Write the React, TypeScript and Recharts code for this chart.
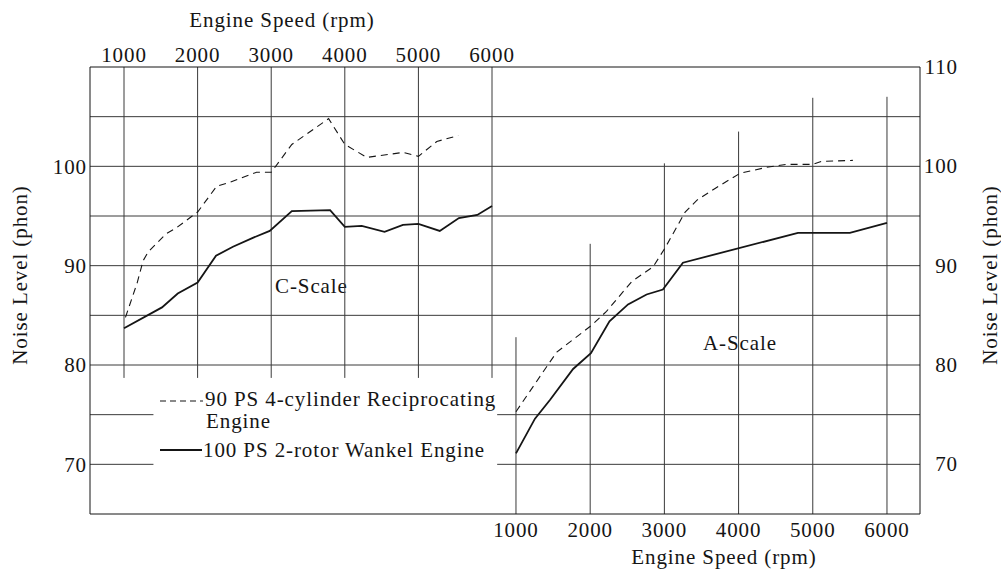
import { LineChart, Line, XAxis, YAxis, ReferenceLine } from "recharts";

const rpmTicks = [1000, 2000, 3000, 4000, 5000, 6000];
const leftPhonTicks = [70, 80, 90, 100];
const rightPhonTicks = [70, 80, 90, 100, 110];

// C-scale curves, read against the top rpm axis
const cRecipRpm = [1020, 1180, 1260, 1330, 1570, 1710, 2000, 2260, 2440, 2800, 3000, 3280, 3780, 4000, 4300, 4790, 5000, 5250, 5540];
const cRecipPhon = [84.8, 88.3, 90.5, 91.4, 93.2, 93.8, 95.4, 98.0, 98.4, 99.4, 99.4, 102.2, 104.8, 102.2, 100.9, 101.4, 101.0, 102.5, 103.1];
const cWankelRpm = [1000, 1516, 1730, 2000, 2250, 2480, 2750, 2980, 3280, 3800, 4000, 4230, 4540, 4790, 5000, 5290, 5550, 5800, 6000];
const cWankelPhon = [83.7, 85.8, 87.2, 88.3, 91.0, 91.9, 92.8, 93.5, 95.5, 95.6, 93.9, 94.0, 93.4, 94.1, 94.2, 93.5, 94.8, 95.1, 96.0];

// A-scale curves, read against the bottom rpm axis and the right phon axis
const aRecipRpm = [1000, 1420, 1550, 2020, 2220, 2560, 2850, 3010, 3280, 3440, 3710, 4020, 4380, 4650, 5000, 5120, 5540];
const aRecipPhon = [75.3, 79.9, 81.3, 84.0, 85.4, 88.4, 89.9, 91.8, 95.4, 96.6, 97.9, 99.3, 99.9, 100.2, 100.2, 100.5, 100.6];
const aWankelRpm = [1000, 1256, 1460, 1770, 2010, 2260, 2510, 2760, 2980, 3250, 4800, 5500, 6000];
const aWankelPhon = [71.1, 74.6, 76.5, 79.6, 81.2, 84.4, 86.1, 87.1, 87.6, 90.3, 93.3, 93.3, 94.3];

const zip = (rpm: number[], phon: number[]) => rpm.map((r, i) => ({ rpm: r, phon: phon[i] }));

// grid of the original plate
const hGridFull = [80, 85, 90, 95, 100, 105];
const hGridSplit = [70, 75];
const cGridFloor = 78.7;
const aGridTops = [82.8, 92.2, 100.3, 103.5, 106.9, 107];

const TOP_DOMAIN: [number, number] = [538, 11815];
const BOTTOM_DOMAIN: [number, number] = [-4741, 6445];
const PHON_DOMAIN: [number, number] = [65, 110];

const FONT = "'Liberation Serif', 'DejaVu Serif', serif";
const INK = "#151515";
const GRID = "#3a3a3a";
const SPACING = 0.9;

const renderRightTick = (props: any) => {
  const { x, y, payload } = props;
  return (
    <text
      x={Number(x) + 38}
      y={y}
      textAnchor="end"
      dominantBaseline="central"
      fontSize={21}
      fontFamily={FONT}
      letterSpacing={SPACING}
      fill={INK}
    >
      {payload.value}
    </text>
  );
};

const App = () => {
  const tick = { fontSize: 21, fontFamily: FONT, fill: INK, letterSpacing: SPACING };
  return (
    <div style={{ position: "absolute", left: 0, top: 0, width: 1001, height: 569, background: "#fff" }}>
      <LineChart width={1001} height={569} margin={{ top: 0, right: 0, bottom: 0, left: 0 }}>
        <XAxis
          xAxisId="c"
          orientation="top"
          type="number"
          dataKey="rpm"
          domain={TOP_DOMAIN}
          ticks={rpmTicks}
          allowDataOverflow
          height={67}
          tickLine={false}
          tickSize={0}
          tickMargin={5}
          axisLine={{ stroke: INK }}
          tick={tick}
        />
        <XAxis
          xAxisId="a"
          orientation="bottom"
          type="number"
          dataKey="rpm"
          domain={BOTTOM_DOMAIN}
          ticks={rpmTicks}
          allowDataOverflow
          height={55}
          tickLine={false}
          tickSize={0}
          tickMargin={8}
          axisLine={{ stroke: INK }}
          tick={tick}
        />
        <YAxis
          yAxisId="left"
          type="number"
          domain={PHON_DOMAIN}
          ticks={leftPhonTicks}
          allowDataOverflow
          width={90}
          tickLine={false}
          tickSize={0}
          tickMargin={3}
          axisLine={{ stroke: INK }}
          tick={tick}
        />
        <YAxis
          yAxisId="right"
          orientation="right"
          type="number"
          domain={PHON_DOMAIN}
          ticks={rightPhonTicks}
          allowDataOverflow
          width={81}
          tickLine={false}
          tickSize={0}
          tickMargin={0}
          axisLine={{ stroke: INK }}
          tick={renderRightTick}
        />

        {hGridFull.map((v) => (
          <ReferenceLine key={`h${v}`} xAxisId="c" yAxisId="left" y={v} stroke={GRID} strokeWidth={1} />
        ))}
        {hGridSplit.map((v) => (
          <ReferenceLine
            key={`hl${v}`}
            xAxisId="c"
            yAxisId="left"
            segment={[{ x: TOP_DOMAIN[0], y: v }, { x: 1400, y: v }]}
            stroke={GRID}
            ifOverflow="visible"
          />
        ))}
        {hGridSplit.map((v) => (
          <ReferenceLine
            key={`hr${v}`}
            xAxisId="c"
            yAxisId="left"
            segment={[{ x: 6070, y: v }, { x: TOP_DOMAIN[1], y: v }]}
            stroke={GRID}
            ifOverflow="visible"
          />
        ))}
        {rpmTicks.map((r) => (
          <ReferenceLine
            key={`vc${r}`}
            xAxisId="c"
            yAxisId="left"
            segment={[{ x: r, y: cGridFloor }, { x: r, y: 110 }]}
            stroke={GRID}
            ifOverflow="visible"
          />
        ))}
        {rpmTicks.map((r, i) => (
          <ReferenceLine
            key={`va${r}`}
            xAxisId="a"
            yAxisId="right"
            segment={[{ x: r, y: 65 }, { x: r, y: aGridTops[i] }]}
            stroke={GRID}
            ifOverflow="visible"
          />
        ))}

        <Line
          xAxisId="c"
          yAxisId="left"
          data={zip(cRecipRpm, cRecipPhon)}
          dataKey="phon"
          type="linear"
          stroke={INK}
          strokeWidth={1.1}
          strokeDasharray="7 5"
          dot={false}
          isAnimationActive={false}
        />
        <Line
          xAxisId="c"
          yAxisId="left"
          data={zip(cWankelRpm, cWankelPhon)}
          dataKey="phon"
          type="linear"
          stroke={INK}
          strokeWidth={1.8}
          dot={false}
          isAnimationActive={false}
        />
        <Line
          xAxisId="a"
          yAxisId="right"
          data={zip(aRecipRpm, aRecipPhon)}
          dataKey="phon"
          type="linear"
          stroke={INK}
          strokeWidth={1.1}
          strokeDasharray="7 5"
          dot={false}
          isAnimationActive={false}
        />
        <Line
          xAxisId="a"
          yAxisId="right"
          data={zip(aWankelRpm, aWankelPhon)}
          dataKey="phon"
          type="linear"
          stroke={INK}
          strokeWidth={1.8}
          dot={false}
          isAnimationActive={false}
        />

        <g fontFamily={FONT} fill={INK} fontSize={21} letterSpacing={SPACING}>
          <text x={282} y={20} textAnchor="middle" dominantBaseline="central">Engine Speed (rpm)</text>
          <text x={724} y={557} textAnchor="middle" dominantBaseline="central">Engine Speed (rpm)</text>
          <text x={20} y={275} textAnchor="middle" dominantBaseline="central" transform="rotate(-90 20 275)">
            Noise Level (phon)
          </text>
          <text x={990} y={275} textAnchor="middle" dominantBaseline="central" transform="rotate(-90 990 275)">
            Noise Level (phon)
          </text>
          <text x={275} y={286} dominantBaseline="central">C-Scale</text>
          <text x={703} y={343} dominantBaseline="central">A-Scale</text>
          <line x1={160} x2={203} y1={401} y2={401} stroke={INK} strokeWidth={1.1} strokeDasharray="6 4" />
          <text x={205} y={399} dominantBaseline="central">90 PS 4-cylinder Reciprocating</text>
          <text x={206} y={421} dominantBaseline="central">Engine</text>
          <line x1={160} x2={202} y1={450} y2={450} stroke={INK} strokeWidth={1.8} />
          <text x={203} y={450} dominantBaseline="central">100 PS 2-rotor Wankel Engine</text>
        </g>
      </LineChart>
    </div>
  );
};

export default App;
